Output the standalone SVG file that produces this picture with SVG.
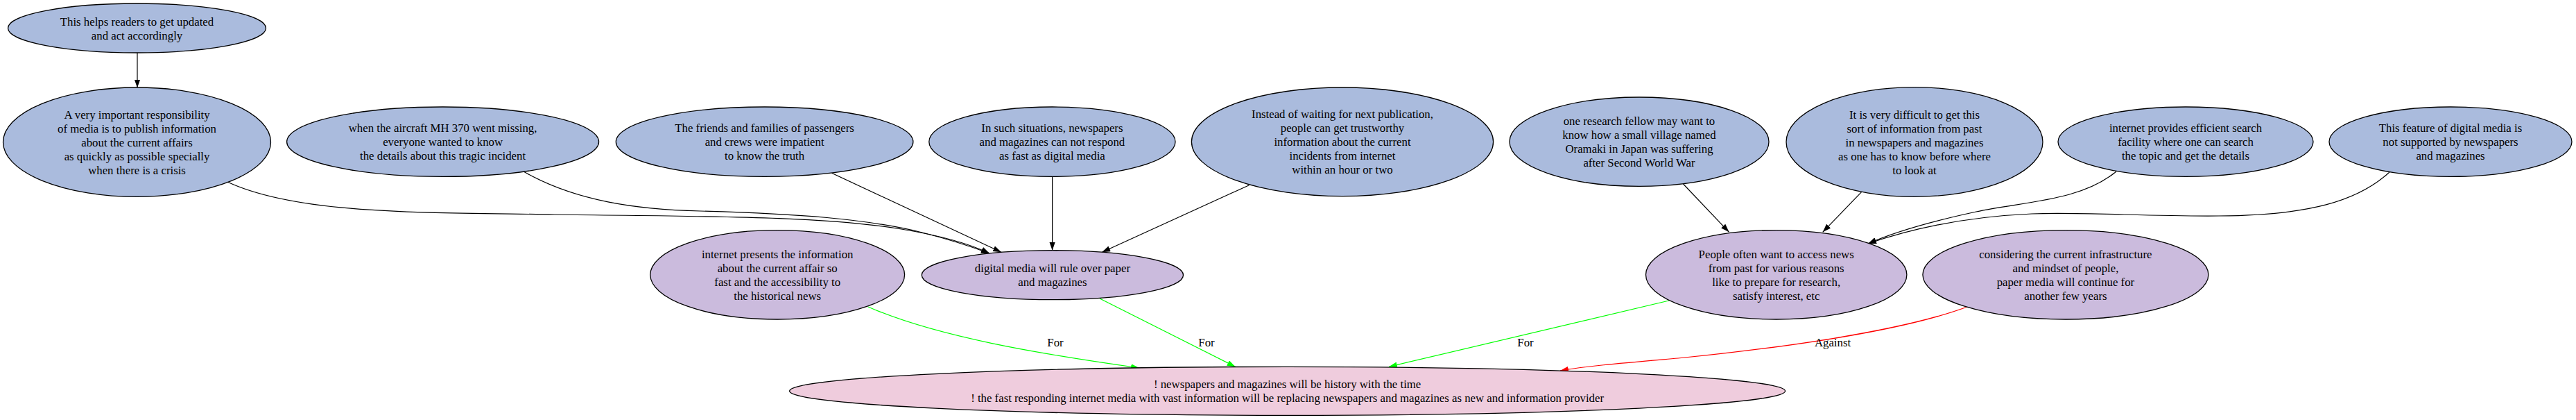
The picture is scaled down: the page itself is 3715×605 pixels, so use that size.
<svg xmlns="http://www.w3.org/2000/svg" width="3715" height="605" viewBox="0 0 3715 605">
<style>
.n ellipse{stroke:#000;stroke-width:1.3}
.b ellipse{fill:#aabbdd}
.p ellipse{fill:#cbbbdd}
.k ellipse{fill:#efccdd}
text{font-family:"Liberation Serif","Times New Roman",serif;font-size:16.8px;fill:#000;text-anchor:middle}
.e path{fill:none;stroke-width:1.2}
.blk{stroke:#000}
.grn{stroke:#00ff00}
.red{stroke:#ff0000}
</style>
<defs>
<marker id="ab" viewBox="0 0 12 8.4" refX="12" refY="4.2" markerWidth="12" markerHeight="8.4" markerUnits="userSpaceOnUse" orient="auto"><path d="M0,0 L12,4.2 L0,8.4 z" fill="#000"/></marker>
<marker id="ag" viewBox="0 0 12 8.4" refX="12" refY="4.2" markerWidth="12" markerHeight="8.4" markerUnits="userSpaceOnUse" orient="auto"><path d="M0,0 L12,4.2 L0,8.4 z" fill="#00ff00"/></marker>
<marker id="ar" viewBox="0 0 12 8.4" refX="12" refY="4.2" markerWidth="12" markerHeight="8.4" markerUnits="userSpaceOnUse" orient="auto"><path d="M0,0 L12,4.2 L0,8.4 z" fill="#ff0000"/></marker>
</defs>
<rect width="3715" height="605" fill="#fff"/>
<g id="edges" class="e">
<path class="blk" marker-end="url(#ab)" d="M198,76 L198,126.5"/>
<path class="blk" marker-end="url(#ab)" d="M328,262 C430,310 620,306 800,309 C1000,312 1180,310 1300,330 C1360,340 1400,352 1427,365"/>
<path class="blk" marker-end="url(#ab)" d="M755,247 C830,290 920,302 1010,304 C1150,308 1250,315 1330,335 C1370,345 1400,355 1427,365"/>
<path class="blk" marker-end="url(#ab)" d="M1199.5,249.3 L1444,363.3"/>
<path class="blk" marker-end="url(#ab)" d="M1517.6,254.3 L1517.6,360.7"/>
<path class="blk" marker-end="url(#ab)" d="M1801.4,266.7 L1589.3,363.3"/>
<path class="blk" marker-end="url(#ab)" d="M2427.5,265 L2493.5,334.3"/>
<path class="blk" marker-end="url(#ab)" d="M2684.5,276.7 L2628.7,334.3"/>
<path class="blk" marker-end="url(#ab)" d="M3052,247 C3000,290 2920,290 2850,305 C2780,320 2730,335 2694,351"/>
<path class="blk" marker-end="url(#ab)" d="M3446,248 C3400,290 3330,310 3200,311 C3100,312 3000,305 2930,308 C2820,313 2740,335 2694,351"/>
<path class="grn" marker-end="url(#ag)" d="M1252,442 C1350,485 1500,510 1643,530"/>
<path class="grn" marker-end="url(#ag)" d="M1586,430 L1781.6,528.3"/>
<path class="grn" marker-end="url(#ag)" d="M2407,433 L2003,528.3"/>
<path class="red" marker-end="url(#ar)" d="M2837,442 C2740,478 2560,502 2420,516 C2340,523 2290,527 2250,534"/>
<text x="1522" y="498.5">For</text>
<text x="1740" y="498.5">For</text>
<text x="2200" y="498.5">For</text>
<text x="2643" y="498.5">Against</text>
</g>
<g id="nA" class="n b"><ellipse cx="197.5" cy="40.5" rx="186" ry="35.5"/><text><tspan x="197.5" y="36.5">This helps readers to get updated</tspan><tspan x="197.5" y="56.5">and act accordingly</tspan></text></g>
<g id="nB" class="n b"><ellipse cx="197.5" cy="204.7" rx="193" ry="78.7"/><text><tspan x="197.5" y="170.7">A very important responsibility</tspan><tspan x="197.5" y="190.7">of media is to publish information</tspan><tspan x="197.5" y="210.7">about the current affairs</tspan><tspan x="197.5" y="230.7">as quickly as possible specially</tspan><tspan x="197.5" y="250.7">when there is a crisis</tspan></text></g>
<g id="nC" class="n b"><ellipse cx="638.6" cy="204.2" rx="225" ry="50.2"/><text><tspan x="638.6" y="190.2">when the aircraft MH 370 went missing,</tspan><tspan x="638.6" y="210.2">everyone wanted to know</tspan><tspan x="638.6" y="230.2">the details about this tragic incident</tspan></text></g>
<g id="nD" class="n b"><ellipse cx="1102.6" cy="204.2" rx="214.3" ry="50.2"/><text><tspan x="1102.6" y="190.2">The friends and families of passengers</tspan><tspan x="1102.6" y="210.2">and crews were impatient</tspan><tspan x="1102.6" y="230.2">to know the truth</tspan></text></g>
<g id="nE" class="n b"><ellipse cx="1517.4" cy="204.2" rx="177.6" ry="50.2"/><text><tspan x="1517.4" y="190.2">In such situations, newspapers</tspan><tspan x="1517.4" y="210.2">and magazines can not respond</tspan><tspan x="1517.4" y="230.2">as fast as digital media</tspan></text></g>
<g id="nF" class="n b"><ellipse cx="1936" cy="204.3" rx="217.6" ry="78.3"/><text><tspan x="1936" y="170.3">Instead of waiting for next publication,</tspan><tspan x="1936" y="190.3">people can get trustworthy</tspan><tspan x="1936" y="210.3">information about the current</tspan><tspan x="1936" y="230.3">incidents from internet</tspan><tspan x="1936" y="250.3">within an hour or two</tspan></text></g>
<g id="nG" class="n b"><ellipse cx="2364" cy="204.2" rx="187" ry="64.2"/><text><tspan x="2364" y="180.2">one research fellow may want to</tspan><tspan x="2364" y="200.2">know how a small village named</tspan><tspan x="2364" y="220.2">Oramaki in Japan was suffering</tspan><tspan x="2364" y="240.2">after Second World War</tspan></text></g>
<g id="nH" class="n b"><ellipse cx="2761" cy="204.5" rx="185" ry="78.8"/><text><tspan x="2761" y="170.5">It is very difficult to get this</tspan><tspan x="2761" y="190.5">sort of information from past</tspan><tspan x="2761" y="210.5">in newspapers and magazines</tspan><tspan x="2761" y="230.5">as one has to know before where</tspan><tspan x="2761" y="250.5">to look at</tspan></text></g>
<g id="nI" class="n b"><ellipse cx="3152" cy="204.2" rx="184" ry="50.2"/><text><tspan x="3152" y="190.2">internet provides efficient search</tspan><tspan x="3152" y="210.2">facility where one can search</tspan><tspan x="3152" y="230.2">the topic and get the details</tspan></text></g>
<g id="nJ" class="n b"><ellipse cx="3534" cy="204.2" rx="175" ry="50.2"/><text><tspan x="3534" y="190.2">This feature of digital media is</tspan><tspan x="3534" y="210.2">not supported by newspapers</tspan><tspan x="3534" y="230.2">and magazines</tspan></text></g>
<g id="nK" class="n p"><ellipse cx="1121.2" cy="395.8" rx="183.4" ry="64.2"/><text><tspan x="1121.2" y="371.8">internet presents the information</tspan><tspan x="1121.2" y="391.8">about the current affair so</tspan><tspan x="1121.2" y="411.8">fast and the accessibility to</tspan><tspan x="1121.2" y="431.8">the historical news</tspan></text></g>
<g id="nL" class="n p"><ellipse cx="1517.9" cy="396.2" rx="188.6" ry="35.5"/><text><tspan x="1517.9" y="392.2">digital media will rule over paper</tspan><tspan x="1517.9" y="412.2">and magazines</tspan></text></g>
<g id="nN" class="n p"><ellipse cx="2561.7" cy="395.8" rx="188.2" ry="64.2"/><text><tspan x="2561.7" y="371.8">People often want to access news</tspan><tspan x="2561.7" y="391.8">from past for various reasons</tspan><tspan x="2561.7" y="411.8">like to prepare for research,</tspan><tspan x="2561.7" y="431.8">satisfy interest, etc</tspan></text></g>
<g id="nO" class="n p"><ellipse cx="2978.9" cy="395.8" rx="206" ry="64.2"/><text><tspan x="2978.9" y="371.8">considering the current infrastructure</tspan><tspan x="2978.9" y="391.8">and mindset of people,</tspan><tspan x="2978.9" y="411.8">paper media will continue for</tspan><tspan x="2978.9" y="431.8">another few years</tspan></text></g>
<g id="nM" class="n k"><ellipse cx="1856.6" cy="563.3" rx="718" ry="35"/><text><tspan x="1856.6" y="559.3">! newspapers and magazines will be history with the time</tspan><tspan x="1856.6" y="579.3">! the fast responding internet media with vast information will be replacing newspapers and magazines as new and information provider</tspan></text></g>
</svg>
